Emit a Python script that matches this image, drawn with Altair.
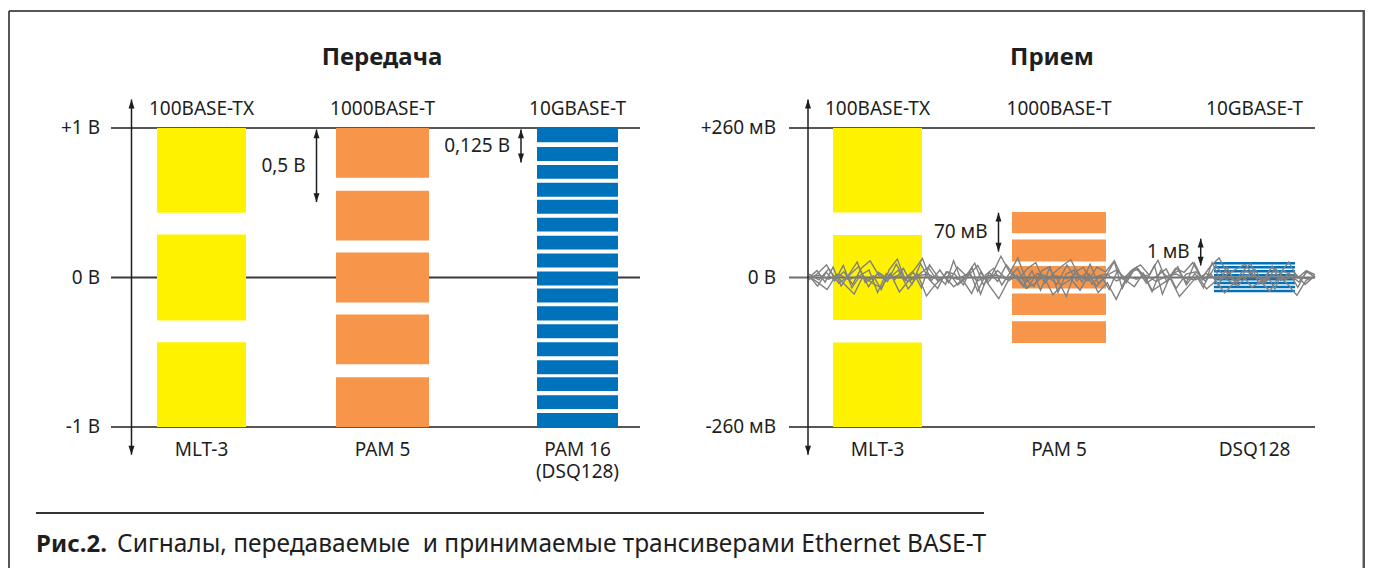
import altair as alt
import pandas as pd

# ---------------- data ----------------
standards = ["100BASE-TX", "1000BASE-T", "10GBASE-T"]
tx_codes = ["MLT-3", "PAM 5", "PAM 16"]
tx_code_note = "(DSQ128)"
rx_codes = ["MLT-3", "PAM 5", "DSQ128"]
panel_titles = ["Передача", "Прием"]

tx_tick_labels = ["+1 В", "0 В", "-1 В"]
tx_tick_values = [1.0, 0.0, -1.0]          # V
rx_tick_labels = ["+260 мВ", "0 В", "-260 мВ"]
rx_tick_values = [260.0, 0.0, -260.0]      # mV

# transmitted signal levels, V (band top / band bottom)
tx_mlt3_top = [1.0, 0.287, -0.433]
tx_mlt3_bottom = [0.433, -0.287, -1.0]
tx_pam5_top = [1.0, 0.58, 0.167, -0.247, -0.667]
tx_pam5_bottom = [0.667, 0.247, -0.167, -0.58, -1.0]
tx_pam16_top = [1.0, 0.873, 0.753, 0.633, 0.52, 0.4, 0.28, 0.16, 0.04,
                -0.073, -0.193, -0.313, -0.433, -0.553, -0.667, -0.787, -0.907]
tx_pam16_bottom = [0.905, 0.78, 0.66, 0.54, 0.427, 0.307, 0.187, 0.067, -0.053,
                   -0.167, -0.287, -0.407, -0.527, -0.647, -0.76, -0.88, -1.0]

# received signal levels, mV
rx_mlt3_top = [260, 74, -113]
rx_mlt3_bottom = [113, -74, -260]
rx_pam5_top = [114, 66, 20, -28, -76]
rx_pam5_bottom = [77, 28, -19, -65, -114]
rx_dsq_top = [27, 20.1, 13.2, 6.3, -0.6, -7.5, -14.4, -21.3]
rx_dsq_bottom = [22.6, 15.7, 8.8, 1.9, -5.0, -11.9, -18.8, -25.7]

# received noise traces, mV
noise_1 = [0, 12, -8, 18, -15, 6, 27, -9, 3, -21, 14, 32, -5, 9, -18, 22, 2, -12, 29, -6,
           10, -24, 5, 16, -13, 8, 34, -3, -16, 12, 19, -26, 6, 13, -8, 23, -10, 3, 28, -19,
           9, 15, -6, 21, -29, 4, 12, -9, 25, -4, 7, -14, 18, -7, 11, 24, -11, 5, -20, 13, 3, -8, 10, 0]
noise_2 = [3, -15, 9, -6, 21, -18, 4, 13, -26, 7, -4, 16, -12, 24, -3, -19, 10, 6, -13, 18,
           -29, 9, -7, 22, 3, -16, 12, -22, 15, -4, -33, 9, 18, -12, 4, -21, 13, -9, 16, 6,
           -25, 12, -3, 19, -13, 7, -18, 26, -6, 10, -15, 2, 14, -10, 20, -5, 8, -17, 11, 1]
noise_3 = [-4, 7, 22, -3, 10, -12, 16, 29, 4, -7, 23, -2, 12, 33, -6, 13, -9, 18, 3, 25,
           -13, 6, 37, 9, -4, 15, 26, -10, 7, 20, 31, 2, -6, 18, 10, 29, -3, 13, 22, 4,
           30, -7, 16, 9, 26, -2, 19, 34, 6, 15, 23, 3, -5, 17, 8, 27, -1, 12, 5]
noise_4 = [2, -9, -21, 4, -13, -29, 3, -10, -18, 7, -25, -6, 6, -32, -12, 3, -16, -4, -28, 9,
           -15, -37, -7, 4, -19, -10, 2, -30, -13, -3, -22, 6, -26, -9, -38, -4, -16, 7, -23, -12,
           -2, -33, -15, 3, -20, -6, -27, -10, 4, -17, -7, -24, 2, -12, -31, -5, 1]
noise_5 = [0, 4, -3, 6, -4, 3, -6, 7, -2, 4, -7, 3, 6, -4, 2, -3, 7, -6, 3, 4,
           -4, 2, -7, 6, -3, 3, -2, 7, -4, 2, 6, -6, 3, -3, 4, -7, 2, 6, -2, -4,
           7, -3, 3, -6, 4, 2, -4, 6, -3, 3, -2, 0]
noise_6 = [6, -4, 15, -10, 3, 19, -16, 9, -3, 13, -20, 4, 18, -7, 10, -13, 2, 21, -9, 12,
           -4, 16, -18, 7, 3, -12, 22, -6, 9, -15, 4, 13, -3, 18, -10, 2, 15, -19, 6, 10,
           -7, 21, -2, -13, 12, 3, -9, 16, -4, 7, -12, 3]
rx_noise = [noise_1, noise_2, noise_3, noise_4, noise_5, noise_6]

# level-step annotations
tx_step_labels = ["0,5 В", "0,125 В"]
tx_step_top = [0.99, 0.99]
tx_step_bottom = [0.505, 0.77]
rx_step_labels = ["70 мВ", "1 мВ"]
rx_step_top = [112.6, 67.6]
rx_step_bottom = [45.0, 20.8]

caption_bold = "Рис.2."
caption_text = "Сигналы, передаваемые\u00a0 и принимаемые трансиверами Ethernet BASE-T"

# ---------------- layout / style ----------------
W, H = 1357, 560
OFF = 8


def py(page_y):
    return page_y - OFF


FONT = "Noto Sans"
INK = "#1e1e1e"
YELLOW = "#FFF200"
ORANGE = "#F7964A"
BLUE = "#0071BB"
NOISE = "#808080"

TX = dict(unit=1.0, cols=[(157, 246), (336, 429), (537, 618)], axis_x=131.5,
          line=(111, 640), tick_right=100, title_x=382)
RX = dict(unit=260.0, cols=[(833, 922), (1012, 1106), (1214, 1295)], axis_x=808,
          line=(789, 1315), tick_right=776, title_x=1052)
AXIS_TOP, AXIS_BOTTOM = 1.19, -1.185
NOISE_X = (809, 1315)

XS = alt.Scale(domain=[OFF, OFF + W], range=[0, W], nice=False, zero=False)
YS = alt.Scale(domain=[-1, 1], range=[419, 120], nice=False, zero=False)


def X(f):
    return alt.X(f, type="quantitative", scale=XS, axis=None)


def Y(f):
    return alt.Y(f, type="quantitative", scale=YS, axis=None)


def cx(c):
    return (c[0] + c[1]) / 2


# ---------------- tables ----------------
bar_rows = []
for panel, sets in [
    (TX, [(tx_mlt3_top, tx_mlt3_bottom, YELLOW), (tx_pam5_top, tx_pam5_bottom, ORANGE),
          (tx_pam16_top, tx_pam16_bottom, BLUE)]),
    (RX, [(rx_mlt3_top, rx_mlt3_bottom, YELLOW), (rx_pam5_top, rx_pam5_bottom, ORANGE),
          (rx_dsq_top, rx_dsq_bottom, BLUE)]),
]:
    for col, (tops, bots, color) in zip(panel["cols"], sets):
        for t, b in zip(tops, bots):
            bar_rows.append(dict(x0=col[0], x1=col[1], top=t / panel["unit"],
                                 bottom=b / panel["unit"], color=color))
bars = pd.DataFrame(bar_rows)

hl_rows = []
for panel, vals in [(TX, tx_tick_values), (RX, rx_tick_values)]:
    for v in vals:
        hl_rows.append(dict(x0=panel["line"][0], x1=panel["line"][1], v=v / panel["unit"],
                            color=INK if v != 0 else "#3a3a3a", w=1.6 if v != 0 else 2.0))
hlines = pd.DataFrame(hl_rows[:4] + hl_rows[5:])
rx_zero = pd.DataFrame([hl_rows[4]])

noise_rows = []
for k, s in enumerate(rx_noise):
    n = len(s)
    for i, v in enumerate(s):
        noise_rows.append(dict(series=k, i=i,
                               x=NOISE_X[0] + i * (NOISE_X[1] - NOISE_X[0]) / (n - 1),
                               v=v / RX["unit"]))
noise = pd.DataFrame(noise_rows)

axes = pd.DataFrame([dict(x=TX["axis_x"], y0=AXIS_TOP, y1=AXIS_BOTTOM),
                     dict(x=RX["axis_x"], y0=AXIS_TOP, y1=AXIS_BOTTOM)])

step_rows = []
for panel, labels, tops, bots, cols in [
    (TX, tx_step_labels, tx_step_top, tx_step_bottom, [316.5, 521]),
    (RX, rx_step_labels, rx_step_top, rx_step_bottom, [998.5, 1200.7]),
]:
    for lab, t, b, x in zip(labels, tops, bots, cols):
        step_rows.append(dict(x=x, top=t / panel["unit"], bottom=b / panel["unit"],
                              mid=(t + b) / 2 / panel["unit"], label=lab))
steps = pd.DataFrame(step_rows)

up_heads = pd.concat([axes.rename(columns={"y0": "y"})[["x", "y"]],
                      steps.rename(columns={"top": "y"})[["x", "y"]]])
down_heads = pd.concat([axes.rename(columns={"y1": "y"})[["x", "y"]],
                        steps.rename(columns={"bottom": "y"})[["x", "y"]]])

headers = pd.DataFrame(dict(x=[cx(c) for c in TX["cols"]] + [cx(c) for c in RX["cols"]],
                            t=standards + standards))
code_texts = tx_codes[:2] + [tx_codes[2] + "\n" + tx_code_note] + rx_codes
codes = pd.DataFrame(dict(x=[cx(c) for c in TX["cols"]] + [cx(c) for c in RX["cols"]],
                          t=code_texts))
ticks = pd.DataFrame(dict(
    x=[TX["tick_right"]] * 3 + [RX["tick_right"]] * 3,
    v=[v / TX["unit"] for v in tx_tick_values] + [v / RX["unit"] for v in rx_tick_values],
    t=tx_tick_labels + rx_tick_labels))
titles = pd.DataFrame(dict(x=[TX["title_x"], RX["title_x"]], t=panel_titles))

# ---------------- layers ----------------
frame_h = alt.Chart(pd.DataFrame(dict(x0=[9], x1=[1365]))).mark_rule(
    color=INK, strokeWidth=1.5).encode(x=X("x0"), x2="x1", y=alt.value(py(11)))
frame_l = alt.Chart(pd.DataFrame(dict(x=[9]))).mark_rule(
    color=INK, strokeWidth=1.5).encode(x=X("x"), y=alt.value(py(11)), y2=alt.value(H))
frame_r = alt.Chart(pd.DataFrame(dict(x=[1363.8]))).mark_rule(
    color="#555555", strokeWidth=2.5).encode(x=X("x"), y=alt.value(py(11)), y2=alt.value(H))
cap_line = alt.Chart(pd.DataFrame(dict(x0=[36], x1=[984]))).mark_rule(
    color="#333333", strokeWidth=2).encode(x=X("x0"), x2="x1", y=alt.value(py(513)))

hline_layer = alt.Chart(hlines).mark_rule().encode(
    x=X("x0"), x2="x1", y=Y("v"),
    color=alt.Color("color:N", scale=None), strokeWidth=alt.StrokeWidth("w:Q", scale=None))
bar_layer = alt.Chart(bars).mark_rect().encode(
    x=X("x0"), x2="x1", y=Y("top"), y2="bottom", color=alt.Color("color:N", scale=None))
rx_zero_layer = alt.Chart(rx_zero).mark_rule(color="#6f6f6f", strokeWidth=2).encode(
    x=X("x0"), x2="x1", y=Y("v"))
noise_layer = alt.Chart(noise).mark_line(color=NOISE, strokeWidth=1.4).encode(
    x=X("x"), y=Y("v"), detail="series:N", order="i:Q")
axis_layer = alt.Chart(axes).mark_rule(color=INK, strokeWidth=1.5).encode(
    x=X("x"), y=Y("y0"), y2="y1")
step_layer = alt.Chart(steps).mark_rule(color=INK, strokeWidth=1.5).encode(
    x=X("x"), y=Y("top"), y2="bottom")
up_layer = alt.Chart(up_heads).mark_point(
    shape="M0,0L-0.75,2.2L0.75,2.2Z", size=64, filled=True, color=INK, opacity=1, strokeWidth=0
).encode(x=X("x"), y=Y("y"))
down_layer = alt.Chart(down_heads).mark_point(
    shape="M0,0L-0.75,-2.2L0.75,-2.2Z", size=64, filled=True, color=INK, opacity=1, strokeWidth=0
).encode(x=X("x"), y=Y("y"))

TXT = dict(font=FONT, color=INK, fontSize=19, baseline="alphabetic")
header_layer = alt.Chart(headers).mark_text(align="center", **TXT).encode(
    x=X("x"), y=alt.value(py(115)), text="t:N")
code_layer = alt.Chart(codes).mark_text(align="center", lineBreak="\n", lineHeight=22, **TXT).encode(
    x=X("x"), y=alt.value(py(456)), text="t:N")
tick_layer = alt.Chart(ticks).mark_text(align="right", dy=6, **TXT).encode(
    x=X("x"), y=Y("v"), text="t:N")
step_text_layer = alt.Chart(steps).mark_text(align="right", dx=-11, dy=6, **TXT).encode(
    x=X("x"), y=Y("mid"), text="label:N")
title_layer = alt.Chart(titles).mark_text(
    align="center", font=FONT, color=INK, fontSize=24, fontWeight="bold", baseline="alphabetic"
).encode(x=X("x"), y=alt.value(py(65)), text="t:N")
cap_bold_layer = alt.Chart(pd.DataFrame(dict(x=[36], t=[caption_bold]))).mark_text(
    align="left", font=FONT, color=INK, fontSize=24, fontWeight="bold", baseline="alphabetic"
).encode(x=X("x"), y=alt.value(py(552)), text="t:N")
cap_text_layer = alt.Chart(pd.DataFrame(dict(x=[117], t=[caption_text]))).mark_text(
    align="left", font=FONT, color=INK, fontSize=24.5, baseline="alphabetic"
).encode(x=X("x"), y=alt.value(py(552)), text="t:N")

chart = alt.layer(
    frame_h, frame_l, frame_r, cap_line,
    hline_layer, bar_layer, rx_zero_layer, noise_layer,
    axis_layer, step_layer, up_layer, down_layer,
    header_layer, code_layer, tick_layer, step_text_layer, title_layer,
    cap_bold_layer, cap_text_layer,
).properties(
    width=W, height=H, autosize=alt.AutoSizeParams(type="none"), padding=0, background="white"
).configure_view(stroke=None)

chart.save("out.html", embed_options={"renderer": "svg", "actions": False})
